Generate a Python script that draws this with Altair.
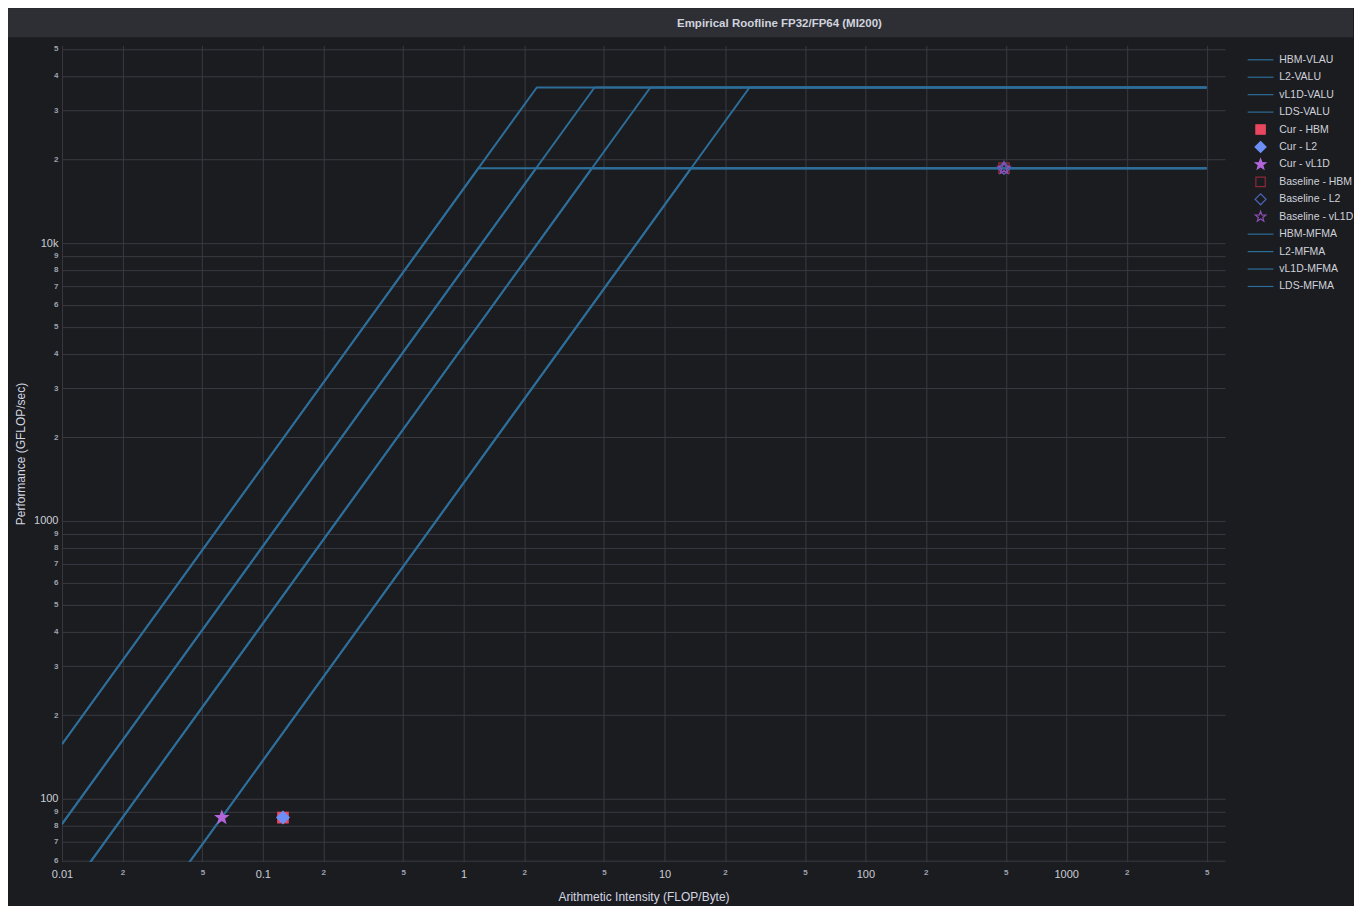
import altair as alt
import pandas as pd

# ---------------- data ----------------
TITLE = "Empirical Roofline FP32/FP64 (MI200)"

# memory levels (right-most line = HBM ... left-most = LDS), bandwidth in GB/s
valu_names = ["HBM-VLAU", "L2-VALU", "vL1D-VALU", "LDS-VALU"]
mfma_names = ["HBM-MFMA", "L2-MFMA", "vL1D-MFMA", "LDS-MFMA"]
bandwidth = [1370, 4270, 8100, 15700]
peak_valu = 36300
peak_mfma = 18600
ai_start = 0.01
ai_end = 5000

point_names = ["Cur - HBM", "Cur - L2", "Cur - vL1D",
               "Baseline - HBM", "Baseline - L2", "Baseline - vL1D"]
point_ai = [0.126, 0.126, 0.0625, 490, 490, 490]
point_perf = [85.5, 85.5, 85.5, 18600, 18600, 18600]

x_ticks = [0.01, 0.02, 0.05, 0.1, 0.2, 0.5, 1, 2, 5, 10, 20, 50,
           100, 200, 500, 1000, 2000, 5000]
y_ticks = [60, 70, 80, 90, 100, 200, 300, 400, 500, 600, 700, 800, 900,
           1000, 2000, 3000, 4000, 5000, 6000, 7000, 8000, 9000,
           10000, 20000, 30000, 40000, 50000]

legend_order = ["HBM-VLAU", "L2-VALU", "vL1D-VALU", "LDS-VALU",
                "Cur - HBM", "Cur - L2", "Cur - vL1D",
                "Baseline - HBM", "Baseline - L2", "Baseline - vL1D",
                "HBM-MFMA", "L2-MFMA", "vL1D-MFMA", "LDS-MFMA"]

# ---------------- styles ----------------
BG = "#1b1c20"
BAR = "#2e2f34"
LINE = "#2d6d98"
GRID = "#393a40"
FONT = "Liberation Sans, Arial, sans-serif"

# invisible zero-length pieces give every legend symbol the same height
PAD = "M0,-1L0,-1M0,1L0,1"
LINE_PATH = "M-2.35,0L2.35,0" + PAD
SQUARE = "M-0.85,-0.85L0.85,-0.85L0.85,0.85L-0.85,0.85Z" + PAD
DIAMOND = "M0,-1L1,0L0,1L-1,0Z" + PAD
STAR = ("M0,-1L0.247,-0.34L0.951,-0.309L0.399,0.13L0.588,0.809L0,0.42"
        "L-0.588,0.809L-0.399,0.13L-0.951,-0.309L-0.247,-0.34Z" + PAD)

style = {
    "HBM-VLAU": (LINE, "transparent", LINE_PATH),
    "L2-VALU": (LINE, "transparent", LINE_PATH),
    "vL1D-VALU": (LINE, "transparent", LINE_PATH),
    "LDS-VALU": (LINE, "transparent", LINE_PATH),
    "Cur - HBM": ("#e8475f", "#e8475f", SQUARE),
    "Cur - L2": ("#6d8ef5", "#6d8ef5", DIAMOND),
    "Cur - vL1D": ("#b266d9", "#b266d9", STAR),
    "Baseline - HBM": ("#8c2a3a", "transparent", SQUARE),
    "Baseline - L2": ("#4a63b0", "transparent", DIAMOND),
    "Baseline - vL1D": ("#8b4fb5", "transparent", STAR),
    "HBM-MFMA": (LINE, "transparent", LINE_PATH),
    "L2-MFMA": (LINE, "transparent", LINE_PATH),
    "vL1D-MFMA": (LINE, "transparent", LINE_PATH),
    "LDS-MFMA": (LINE, "transparent", LINE_PATH),
}
stroke_scale = alt.Scale(domain=legend_order, range=[style[n][0] for n in legend_order])
fill_scale = alt.Scale(domain=legend_order, range=[style[n][1] for n in legend_order])
shape_scale = alt.Scale(domain=legend_order, range=[style[n][2] for n in legend_order])

# ---------------- tables ----------------
rows = []
for names, peak in ((valu_names, peak_valu), (mfma_names, peak_mfma)):
    for name, bw in zip(names, bandwidth):
        rows.append({"series": name, "ai": ai_start, "perf": bw * ai_start})
        rows.append({"series": name, "ai": peak / bw, "perf": peak})
        rows.append({"series": name, "ai": ai_end, "perf": peak})
lines_df = pd.DataFrame(rows)
points_df = pd.DataFrame({"series": point_names, "ai": point_ai, "perf": point_perf})

W, H = 1164, 817

is_major = "abs(log(datum.value)/LN10 - round(log(datum.value)/LN10)) < 1e-6"
minor_digit = "format(round(datum.value / pow(10, floor(log(datum.value)/LN10 + 1e-9))), 'd')"

x_axis = alt.Axis(
    values=x_ticks, title="Arithmetic Intensity (FLOP/Byte)",
    labelExpr=f"({is_major}) ? format(datum.value, '~g') : {minor_digit}",
    labelFontSize={"condition": {"test": is_major, "value": 11}, "value": 8},
    labelColor={"condition": {"test": is_major, "value": "#c9ccd6"}, "value": "#9da2b0"},
    labelFontWeight={"condition": {"test": is_major, "value": "normal"}, "value": "bold"},
    labelPadding=7, titlePadding=12, ticks=False, domain=False,
    labelFlush=False, labelOverlap=False, grid=True,
)
y_axis = alt.Axis(
    values=y_ticks, title="Performance (GFLOP/sec)",
    labelExpr=f"({is_major}) ? (datum.value >= 9999 ? '10k' : format(datum.value, '~g')) : {minor_digit}",
    labelFontSize={"condition": {"test": is_major, "value": 11}, "value": 8},
    labelColor={"condition": {"test": is_major, "value": "#c9ccd6"}, "value": "#9da2b0"},
    labelFontWeight={"condition": {"test": is_major, "value": "normal"}, "value": "bold"},
    labelPadding=4, titlePadding=6, ticks=False, domain=False,
    labelFlush=False, labelOverlap=False, grid=True,
)

x_enc = alt.X("ai:Q", scale=alt.Scale(type="log", domain=[0.01, 6180], nice=False), axis=x_axis)
y_enc = alt.Y("perf:Q", scale=alt.Scale(type="log", domain=[59.3, 51500], nice=False), axis=y_axis)

legend = alt.Legend(title=None, orient="none", legendX=1193, legendY=8)

lines = alt.Chart(lines_df).mark_line(
    strokeWidth=2, clip=True, strokeJoin="round", color=LINE
).encode(
    x=x_enc, y=y_enc, detail="series:N",
)

points = alt.Chart(points_df).mark_point(filled=True, size=144, strokeWidth=1.5, opacity=1).encode(
    x=x_enc, y=y_enc,
    fill=alt.Fill("series:N", scale=fill_scale, legend=legend),
    stroke=alt.Stroke("series:N", scale=stroke_scale, legend=legend),
    shape=alt.Shape("series:N", scale=shape_scale, legend=legend),
)

title_df = pd.DataFrame({"t": [TITLE]})
bar = alt.Chart(title_df).mark_rect(color=BAR, clip=False).encode(
    x=alt.value(-54), x2=alt.value(1292), y=alt.value(-37), y2=alt.value(-8)
)
title_text = alt.Chart(title_df).mark_text(
    font=FONT, fontWeight="bold", fontSize=11.5, color="#d0d3de",
    align="center", baseline="middle",
).encode(x=alt.value(718), y=alt.value(-21), text="t:N")

chart = alt.layer(bar, title_text, lines, points).properties(
    width=W, height=H,
    padding={"left": 0, "top": 0, "right": 0, "bottom": 3},
    background=BG,
).configure_view(
    stroke=None, fill=BG
).configure_axis(
    gridColor=GRID, gridWidth=1, labelFont=FONT, titleFont=FONT,
    titleFontSize=12, titleFontWeight="normal", titleColor="#d3d6e0",
).configure_legend(
    labelFont=FONT, labelFontSize=10.5, labelColor="#cfd2da",
    symbolSize=121, symbolStrokeWidth=1.2, labelOffset=12.2, rowPadding=0.45, padding=0,
)

chart.save("out.html", embed_options={"renderer": "svg", "actions": False})
